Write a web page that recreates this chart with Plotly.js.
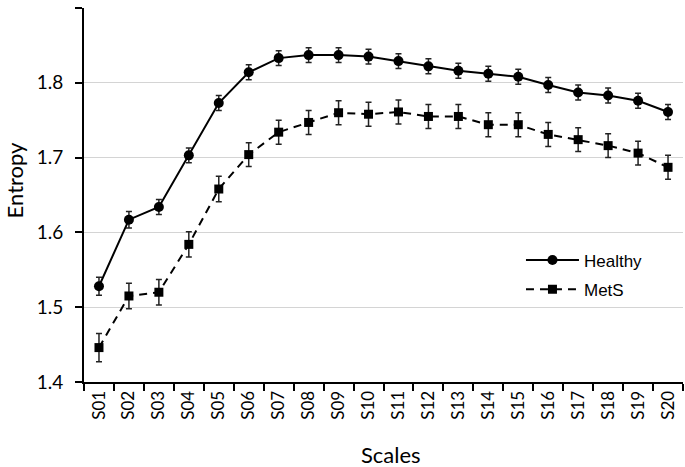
<!DOCTYPE html>
<html>
<head>
<meta charset="utf-8">
<script src="https://cdn.plot.ly/plotly-3.0.1.min.js"></script>
<style>html,body{margin:0;padding:0;background:#fff;}#chart{width:685px;height:467px;}</style>
</head>
<body>
<div id="chart"></div>
<script>
const scales = ["S01","S02","S03","S04","S05","S06","S07","S08","S09","S10","S11","S12","S13","S14","S15","S16","S17","S18","S19","S20"];
const healthy = [1.528,1.617,1.634,1.703,1.773,1.814,1.833,1.837,1.837,1.835,1.829,1.822,1.816,1.812,1.808,1.797,1.787,1.783,1.776,1.761];
const healthyErr = [0.012,0.011,0.010,0.010,0.010,0.010,0.010,0.010,0.010,0.010,0.010,0.010,0.010,0.010,0.010,0.010,0.010,0.010,0.010,0.010];
const mets = [1.446,1.515,1.520,1.584,1.658,1.704,1.734,1.747,1.760,1.758,1.761,1.755,1.755,1.744,1.744,1.731,1.724,1.716,1.706,1.687];
const metsErr = [0.019,0.017,0.017,0.017,0.017,0.016,0.016,0.016,0.016,0.016,0.016,0.016,0.016,0.016,0.016,0.016,0.016,0.016,0.016,0.016];
const yTicks = [1.4, 1.5, 1.6, 1.7, 1.8, 1.9];
const yTickText = ["1.4", "1.5", "1.6", "1.7", "1.8", "1.9"];

const traces = [
  {
    x: scales, y: healthy, name: "Healthy", type: "scatter", mode: "lines+markers",
    legendgroup: "a",
    line: {color: "#000", width: 2},
    marker: {symbol: "circle", size: 10, color: "#000"},
    error_y: {type: "data", array: healthyErr, visible: true, color: "#222", thickness: 1.5, width: 3}
  },
  {
    x: scales, y: mets, name: "MetS", type: "scatter", mode: "lines+markers",
    legendgroup: "b",
    line: {color: "#000", width: 2, dash: "8px,6px"},
    marker: {symbol: "square", size: 9, color: "#000"},
    error_y: {type: "data", array: metsErr, visible: true, color: "#222", thickness: 1.5, width: 3}
  }
];

const layout = {
  width: 685, height: 467,
  margin: {l: 84, r: 2, t: 8, b: 85, autoexpand: false},
  paper_bgcolor: "#fff", plot_bgcolor: "#fff",
  font: {family: "Lato, sans-serif", color: "#000", size: 16},
  showlegend: true,
  legend: {
    x: 0.7295, y: 0.286, xanchor: "left", yanchor: "middle",
    font: {family: "Liberation Sans, Arial, sans-serif", size: 17, color: "#000"},
    bgcolor: "rgba(0,0,0,0)", traceorder: "grouped", tracegroupgap: 4,
    itemwidth: 53
  },
  xaxis: {
    type: "category",
    range: [-0.5, 19.5],
    automargin: false,
    tickangle: -90,
    tickson: "boundaries",
    ticks: "outside", ticklen: 7, tickwidth: 2, tickcolor: "#000",
    showline: true, linecolor: "#000", linewidth: 2,
    showgrid: false, zeroline: false,
    tickfont: {family: "Lato, sans-serif", size: 17, color: "#000"}
  },
  yaxis: {
    automargin: false,
    range: [1.4, 1.9],
    tickvals: yTicks,
    ticktext: yTickText,
    ticks: "outside", ticklen: 7, tickwidth: 2, tickcolor: "#000",
    showline: true, linecolor: "#000", linewidth: 2,
    showgrid: true, gridcolor: "#d4d4d4", gridwidth: 1,
    zeroline: false,
    ticklabelstandoff: 8,
    tickfont: {family: "Lato, sans-serif", size: 19, color: "#000"}
  },
  annotations: [
    {text: "Entropy", xref: "paper", yref: "paper", x: -0.1169, y: 0.539,
     xanchor: "center", yanchor: "middle", textangle: -90, showarrow: false,
     font: {family: "Lato, sans-serif", size: 22, color: "#000"}},
    {text: "Scales", xref: "paper", yref: "paper", x: 0.5125, y: -0.195,
     xanchor: "center", yanchor: "middle", showarrow: false,
     font: {family: "Lato, sans-serif", size: 22, color: "#000"}}
  ]
};

Plotly.newPlot("chart", traces, layout, {displayModeBar: false, staticPlot: true});
</script>
</body>
</html>
